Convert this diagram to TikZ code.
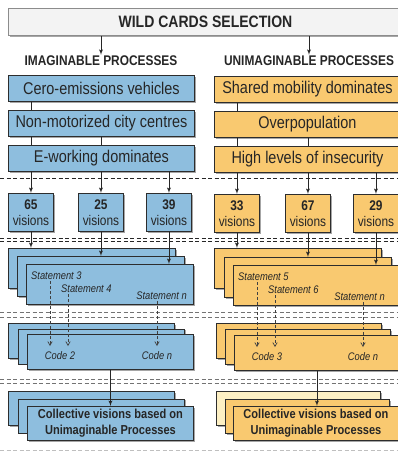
\documentclass[tikz,border=0pt]{standalone}
\usepackage{fontspec}
\setmainfont[FakeStretch=0.85]{Liberation Sans}
\usetikzlibrary{arrows,shadows,positioning}
\definecolor{impblue}{RGB}{142,190,222}
\definecolor{unimporange}{RGB}{249,201,112}
\definecolor{unimpcream}{RGB}{253,240,196}
\definecolor{titlegray}{RGB}{243,243,243}
\definecolor{boxline}{RGB}{45,45,45}
\tikzset{
		>=latex',
		cardbox/.style={
			rectangle,
			draw=boxline, line width=0.9pt,
			anchor=north west,
			inner sep=1pt,
			text=black!85,
			drop shadow={shadow xshift=1.2pt, shadow yshift=-1.5pt,
				fill=black, opacity=0.35}},
		titlebox/.style={cardbox, fill=titlegray, draw=black!45,
			minimum width=394pt, minimum height=27pt,
			font=\fontsize{16.5}{18}\selectfont\bfseries},
		heading/.style={text=black!85, inner sep=1pt,
			font=\fontsize{14}{16}\selectfont\bfseries},
		wildcard/.style={cardbox, minimum width=186pt, minimum height=26pt,
			font=\fontsize{17}{19}\selectfont},
		visionbox/.style={cardbox, minimum width=45pt, minimum height=38pt,
			align=center, font=\fontsize{14}{16}\selectfont},
		stmtcard/.style={cardbox, minimum width=167pt, minimum height=40pt},
		codecard/.style={cardbox, minimum width=166pt, minimum height=35pt},
		finalcard/.style={cardbox, minimum width=166pt, minimum height=34pt,
			align=center, font=\fontsize{13}{16}\selectfont\bfseries},
		stmt/.style={inner sep=1pt, text=black!85,
			font=\fontsize{11}{13}\selectfont\itshape},
		sepline/.style={dash pattern=on 4pt off 2.5pt, line width=0.8pt},
		link/.style={draw=black!85, line width=0.9pt},
		codearrow/.style={draw=black!75, line width=0.7pt,
			dash pattern=on 3pt off 2pt, -angle 60},
	}

\begin{document}
\begin{tikzpicture}[x=1pt, y=-1pt]
			\useasboundingbox (0,0) rectangle (398,451);

			% separators
			\draw[sepline, black!85] (0,178) -- (398,178);
			\draw[sepline, black!85] (0,238) -- (398,238);
			\draw[sepline, black!85] (0,241.5) -- (398,241.5);
			\draw[sepline, black!55] (0,312) -- (398,312);
			\draw[sepline, black!55] (0,317) -- (398,317);
			\draw[sepline, black!55] (0,379) -- (398,379);
			\draw[sepline, black!55] (0,383.5) -- (398,383.5);
			\draw[sepline, black!25] (0,450) -- (398,450);

			\node[titlebox] (title) at (8,8) {WILD CARDS SELECTION};
			\node[heading] (imag) at (101,61) {IMAGINABLE PROCESSES};
			\node[heading] (unimag) at (309,61) {UNIMAGINABLE PROCESSES};

			% imaginable processes
			\node[wildcard, fill=impblue] (w1) at (8,75) {Cero-emissions vehicles};
			\node[wildcard, fill=impblue] (w2) at (8,110) {Non-motorized city centres};
			\node[wildcard, fill=impblue] (w3) at (8,145) {E-working dominates};

			\node[visionbox, fill=impblue] (v1) at (8,193) {\textbf{65}\\visions};
			\node[visionbox, fill=impblue] (v2) at (78,193) {\textbf{25}\\visions};
			\node[visionbox, fill=impblue] (v3) at (146,193) {\textbf{39}\\visions};

			\node[stmtcard, fill=impblue] (sa1) at (8,248) {};
			\node[stmtcard, fill=impblue] (sa2) at (17,256) {};
			\node[stmtcard, fill=impblue] (sa3) at (26,264) {};
			\node[stmt, anchor=west] (s3) at (30,276) {Statement 3};
			\node[stmt, anchor=west] (s4) at (60,289) {Statement 4};
			\node[stmt, anchor=east] (san) at (188,296) {Statement n};

			\node[codecard, fill=impblue] (ca1) at (8,323) {};
			\node[codecard, fill=impblue] (ca2) at (18,328.5) {};
			\node[codecard, fill=impblue] (ca3) at (27,334) {};
			\node[stmt] (c2) at (60,356) {Code 2};
			\node[stmt] (can) at (157,356) {Code n};

			\node[finalcard, fill=impblue] (fa1) at (8,391) {};
			\node[finalcard, fill=impblue] (fa2) at (18,398.5) {};
			\node[finalcard, fill=impblue] (fa3) at (27,406)
				{Collective visions based on\\Unimaginable Processes};

			% unimaginable processes
			\node[wildcard, fill=unimporange] (u1) at (214,76) {Shared mobility dominates};
			\node[wildcard, fill=unimporange] (u2) at (214,111) {Overpopulation};
			\node[wildcard, fill=unimporange] (u3) at (214,146) {High levels of insecurity};

			\node[visionbox, fill=unimporange] (x1) at (214,194) {\textbf{33}\\visions};
			\node[visionbox, fill=unimporange] (x2) at (285,194) {\textbf{67}\\visions};
			\node[visionbox, fill=unimporange] (x3) at (353,194) {\textbf{29}\\visions};

			\node[stmtcard, fill=unimporange] (sb1) at (214,248) {};
			\node[stmtcard, fill=unimporange] (sb2) at (224,257) {};
			\node[stmtcard, fill=unimporange] (sb3) at (233,265) {};
			\node[stmt, anchor=west] (s5) at (237,277) {Statement 5};
			\node[stmt, anchor=west] (s6) at (267,290) {Statement 6};
			\node[stmt, anchor=east] (sbn) at (386,297) {Statement n};

			\node[codecard, fill=unimporange, minimum width=165pt] (cb1) at (216,323) {};
			\node[codecard, fill=unimporange, minimum width=165pt] (cb2) at (225,329) {};
			\node[codecard, fill=unimporange, minimum width=165pt] (cb3) at (234,335) {};
			\node[stmt] (c3) at (267,357) {Code 3};
			\node[stmt] (cbn) at (363,357) {Code n};

			\node[finalcard, fill=unimpcream, minimum width=164pt] (fb1) at (216,391) {};
			\node[finalcard, fill=unimporange, minimum width=164pt] (fb2) at (225,399) {};
			\node[finalcard, fill=unimporange, minimum width=165pt] (fb3) at (233,406)
				{Collective visions based on\\Unimaginable Processes};

			% arrow ends of the coding step
			\coordinate (k3) at (50,346);
			\coordinate (k4) at (68,346);
			\coordinate (kan) at (157,346);
			\coordinate (k5) at (257,347);
			\coordinate (k6) at (275,347);
			\coordinate (kbn) at (363,347);

			% links
			\draw[link, ->] (title.south -| imag) -- (imag.north);
			\draw[link, ->] (title.south -| unimag) -- (unimag.north);

			\draw[link] (w1.south -| v1) -- (w2.north -| v1);
			\draw[link] (w2.south -| v1) -- (w3.north -| v1);
			\draw[link] (w2.south -| v2) -- (w3.north -| v2);
			\draw[link, ->] (w3.south -| v1) -- (v1.north);
			\draw[link, ->] (w3.south -| v2) -- (v2.north);
			\draw[link, ->] (w3.south -| v3) -- (v3.north);
			\draw[link, ->] (v1.south) -- (v1.south |- sa1.north);
			\draw[link, ->] (v2.south) -- (v2.south |- sa2.north);
			\draw[link, ->] (v3.south) -- (v3.south |- sa3.north);
			\draw[codearrow] (s3.south -| k3) -- (k3);
			\draw[codearrow] (s4.south -| k4) -- (k4);
			\draw[codearrow] (san.south -| kan) -- (kan);
			\draw[link, ->] (ca3.south) -- (ca3.south |- fa3.north);

			\draw[link] (u1.south -| x1) -- (u2.north -| x1);
			\draw[link] (u2.south -| x1) -- (u3.north -| x1);
			\draw[link] (u2.south -| x2) -- (u3.north -| x2);
			\draw[link, ->] (u3.south -| x1) -- (x1.north);
			\draw[link, ->] (u3.south -| x2) -- (x2.north);
			\draw[link, ->] (u3.south -| x3) -- (x3.north);
			\draw[link, ->] (x1.south) -- (x1.south |- sb1.north);
			\draw[link, ->] (x2.south) -- (x2.south |- sb2.north);
			\draw[link, ->] (x3.south) -- (x3.south |- sb3.north);
			\draw[codearrow] (s5.south -| k5) -- (k5);
			\draw[codearrow] (s6.south -| k6) -- (k6);
			\draw[codearrow] (sbn.south -| kbn) -- (kbn);
			\draw[link, ->] (cb3.south) -- (cb3.south |- fb3.north);
\end{tikzpicture}
\end{document}
